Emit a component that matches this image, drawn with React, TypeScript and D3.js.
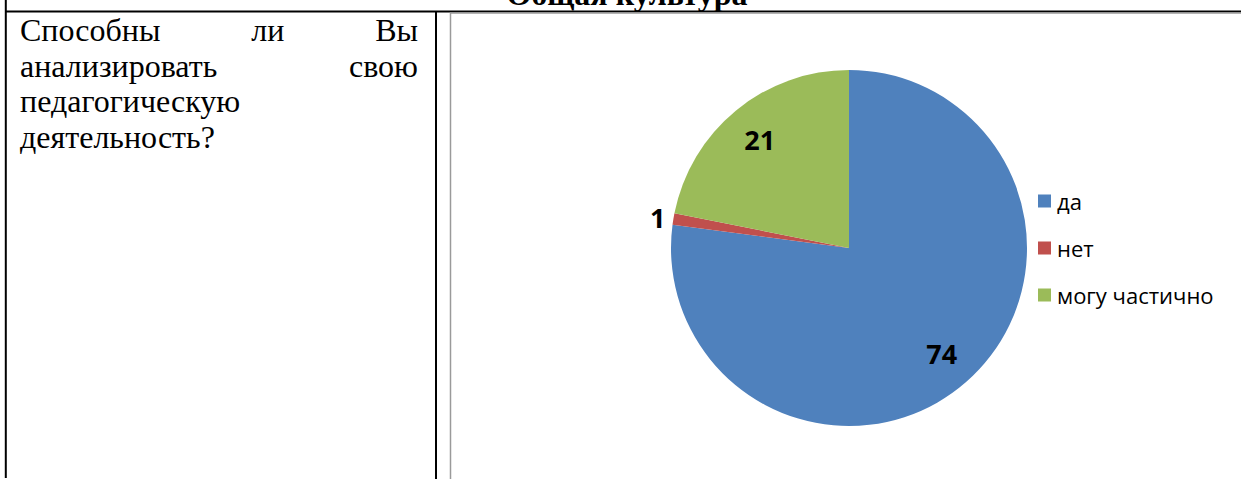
import React, { useLayoutEffect, useRef, useState } from 'react';
import * as d3 from 'd3';

const categories = ['да', 'нет', 'могу частично'];
const values = [74, 1, 21];
const colors = ['#4F81BD', '#C0504D', '#9BBB59'];

const title = 'Общая культура';
const questionLines = [
  { words: ['Способны', 'ли', 'Вы'], justify: true },
  { words: ['анализировать', 'свою'], justify: true },
  { words: ['педагогическую'], justify: false },
  { words: ['деятельность?'], justify: false },
];

const W = 1241;
const H = 479;
const serif = "'Liberation Serif', 'Times New Roman', serif";
const sans = "'Open Sans', 'Noto Sans', sans-serif";
const textSize = 32;

const JustifiedLine: React.FC<{ words: string[]; x0: number; x1: number; y: number; justify: boolean }> = ({ words, x0, x1, y, justify }) => {
  const refs = useRef<(SVGTextElement | null)[]>([]);
  const [xs, setXs] = useState<number[] | null>(null);

  useLayoutEffect(() => {
    if (!justify || words.length < 2) return;
    const widths = refs.current.map(t => (t ? t.getComputedTextLength() : 0));
    const total = d3.sum(widths);
    const gap = (x1 - x0 - total) / (words.length - 1);
    let cur = x0;
    const pos: number[] = [];
    widths.forEach(w => {
      pos.push(cur);
      cur += w + gap;
    });
    setXs(pos);
  }, [words, x0, x1, justify]);

  if (!justify) {
    return (
      <text x={x0} y={y} style={{ fontFamily: serif }} fontSize={textSize} fill="#000">
        {words.join(' ')}
      </text>
    );
  }
  return (
    <g>
      {words.map((w, i) => (
        <text
          key={w}
          ref={el => { refs.current[i] = el; }}
          x={xs ? xs[i] : x0}
          y={y}
          style={{ fontFamily: serif }}
          fontSize={textSize}
          fill="#000"
          opacity={xs ? 1 : 0}
        >
          {w}
        </text>
      ))}
    </g>
  );
};

export default function App() {
  const cx = 849;
  const cy = 248;
  const r = 178;

  const pie = d3.pie<number>().sort(null).value(d => d);
  const arcs = pie(values);
  const arc = d3.arc<d3.PieArcDatum<number>>().innerRadius(0).outerRadius(r);
  const labelArc = d3.arc<d3.PieArcDatum<number>>().innerRadius(r * 0.79).outerRadius(r * 0.79);
  const outerArc = d3.arc<d3.PieArcDatum<number>>().innerRadius(r + 8).outerRadius(r + 8);

  const legendY = d3.scalePoint<string>().domain(categories).range([201, 295]);

  return (
    <svg width={W} height={H} style={{ position: 'absolute', left: 0, top: 0, background: '#fff' }}>
      <rect width={W} height={H} fill="#fff" />

      {/* header row, cut off at the top edge */}
      <text x={627} y={5} textAnchor="middle" style={{ fontFamily: serif }} fontWeight="bold" fontSize={32} fill="#000">
        {title}
      </text>

      {/* table borders */}
      <line x1={5} y1={11.5} x2={W} y2={11.5} stroke="#000" strokeWidth={2} />
      <line x1={5.8} y1={0} x2={5.8} y2={478} stroke="#000" strokeWidth={2} />
      <line x1={436} y1={11.5} x2={436} y2={H} stroke="#000" strokeWidth={2} />

      {/* chart frame */}
      <rect x={450.5} y={13} width={W} height={H} fill="none" stroke="#9a9a9a" strokeWidth={1.5} />

      {/* question text */}
      {questionLines.map((line, i) => (
        <JustifiedLine key={i} words={line.words} x0={20} x1={418} y={41 + i * 35.5} justify={line.justify} />
      ))}

      {/* pie */}
      <g transform={`translate(${cx},${cy})`}>
        {arcs.map((a, i) => (
          <path key={categories[i]} d={arc(a) ?? ''} fill={colors[i]} />
        ))}
        {arcs.map((a, i) => {
          const small = a.endAngle - a.startAngle < 0.2;
          const [lx, ly] = small ? outerArc.centroid(a) : labelArc.centroid(a);
          return (
            <text
              key={`l-${i}`}
              x={lx}
              y={ly}
              textAnchor={small ? 'end' : 'middle'}
              dominantBaseline="central"
              fontFamily={sans}
              fontWeight="bold"
              fontSize={27}
              fill="#000"
            >
              {values[i]}
            </text>
          );
        })}
      </g>

      {/* legend */}
      {categories.map((c, i) => (
        <g key={c} transform={`translate(1038,${legendY(c)})`}>
          <rect x={0} y={-6.5} width={13} height={13} fill={colors[i]} />
          <text x={19} y={0} dominantBaseline="central" fontFamily={sans} fontSize={22} fill="#000">
            {c}
          </text>
        </g>
      ))}
    </svg>
  );
}
